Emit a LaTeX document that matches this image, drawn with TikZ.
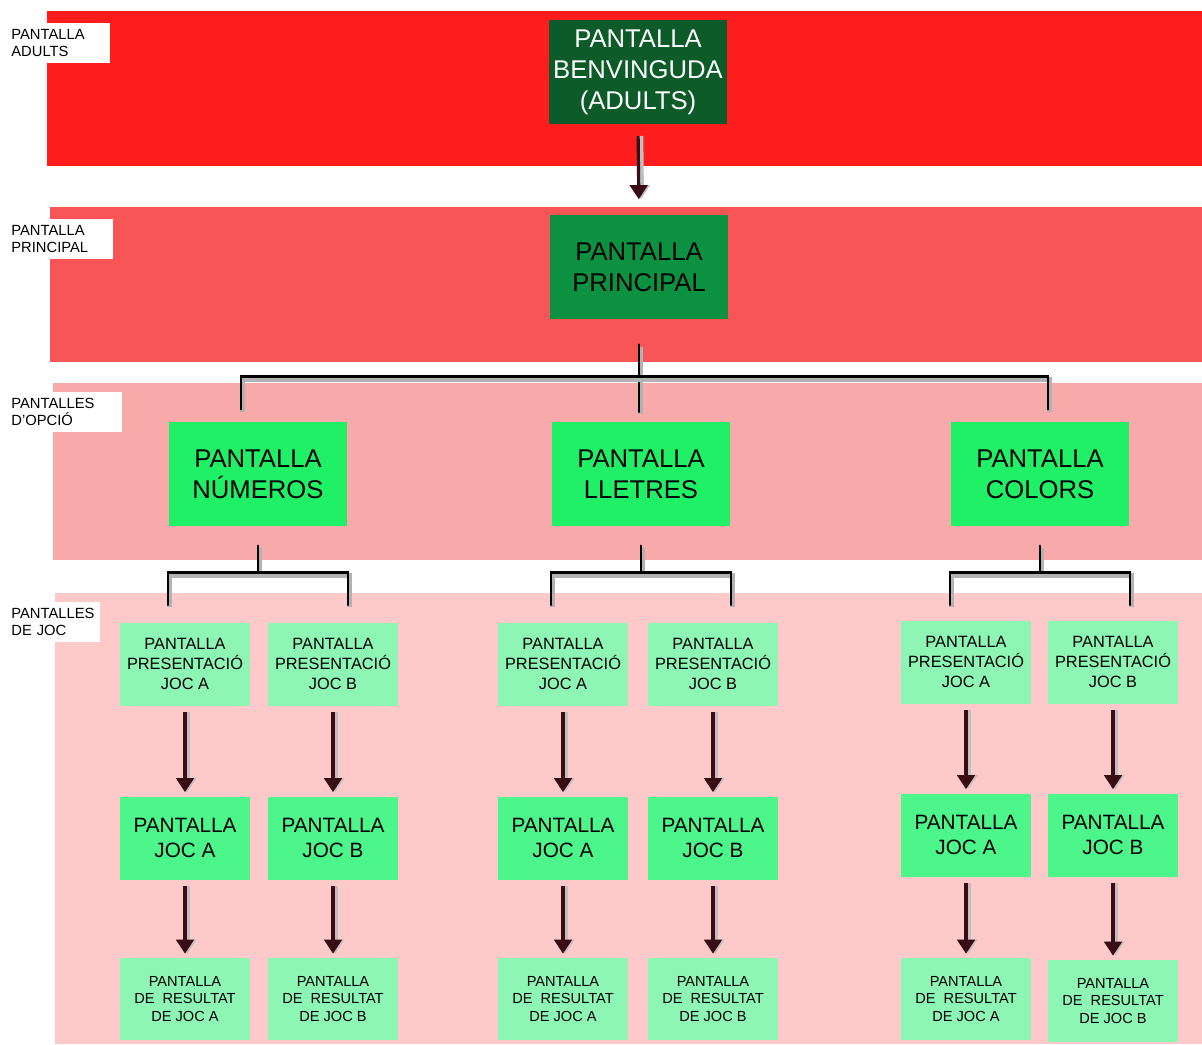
\documentclass[tikz,border=0pt]{standalone}
\usepackage{fontspec}
\setmainfont{Liberation Sans}
\usetikzlibrary{arrows.meta,calc}

\definecolor{bandA}{HTML}{FF1C1C}
\definecolor{bandB}{HTML}{F85656}
\definecolor{bandC}{HTML}{F8AAAA}
\definecolor{bandD}{HTML}{FDC9C9}
\definecolor{darkgr}{HTML}{0D5B28}
\definecolor{midgr}{HTML}{0B9140}
\definecolor{optgr}{HTML}{20F065}
\definecolor{palegr}{HTML}{8EF6B4}
\definecolor{jocgr}{HTML}{4CF68B}
\definecolor{arrowc}{HTML}{3A0C14}

\begin{document}
\begin{tikzpicture}[x=0.02cm, y=-0.02cm,
  box/.style={align=center, inner sep=2pt},
  big/.style={box, minimum width=3.56cm, minimum height=2.1cm, font=\fontsize{14.6}{17.6}\selectfont},
  wel/.style={big, fill=darkgr, text=white},
  main/.style={big, fill=midgr},
  opt/.style={big, fill=optgr},
  pres/.style={box, fill=palegr, minimum width=2.6cm, minimum height=1.66cm, font=\fontsize{9.3}{11.3}\selectfont},
  joc/.style={box, fill=jocgr, minimum width=2.6cm, minimum height=1.66cm, font=\fontsize{11.8}{14}\selectfont},
  res/.style={pres, minimum height=1.64cm, font=\fontsize{8.3}{9.9}\selectfont},
  tag/.style={fill=white, anchor=west, align=left, inner xsep=0.22cm, minimum height=0.76cm, font=\fontsize{8.4}{10}\selectfont},
  tree/.style={line width=1.6pt, black, line cap=round,
    preaction={draw=black!30, line width=3pt, transform canvas={xshift=0.8pt,yshift=-1.5pt}}},
  arr/.style={-{Triangle[width=10pt,length=8pt]}, line width=1.8pt, arrowc,
    shorten <=0.12cm, shorten >=0.08cm,
    preaction={draw=black!25, line width=3.5pt, transform canvas={xshift=1.2pt}}}]
\useasboundingbox (0,0) rectangle (1202,1044);

% bands
\fill[bandA] (47,11) rectangle (1202,166);
\fill[bandB] (50,207) rectangle (1202,362);
\fill[bandC] (53,383) rectangle (1202,560);
\fill[bandD] (55,593) rectangle (1202,1044);

\node[tag, text width=1.76cm] (tadult) at (0,43)  {PANTALLA\\ADULTS};
\node[tag, text width=1.82cm] (tprinc) at (0,239) {PANTALLA\\PRINCIPAL};
\node[tag, text width=2.0cm]  (topc)   at (0,412) {PANTALLES\\D'OPCIÓ};
\node[tag, text width=1.56cm] (tjoc)   at (0,622) {PANTALLES\\DE JOC};

% upper levels
\node[wel]  (benv)  at (638,72)  {PANTALLA\\BENVINGUDA\\(ADULTS)};
\node[main] (princ) at (639,267) {PANTALLA\\PRINCIPAL};
\draw[arr, shorten <=0.22cm, shorten >=0.3cm] (benv.south) -- (princ.north);

\node[opt] (num) at (258,474) {PANTALLA\\NÚMEROS};
\node[opt] (lle) at (641,474) {PANTALLA\\LLETRES};
\node[opt] (col) at (1040,474) {PANTALLA\\COLORS};

\coordinate (hub) at ($(princ.south)+(0,57)$);
\draw[tree] ($(princ.south)+(0,25)$) -- ($(princ.south)+(0,92)$);
\draw[tree] ($(num.north)+(-17,-12)$) |- (hub) -| ($(col.north)+(8,-12)$);

% game screens
\node[pres] (pnA) at (185,664) {PANTALLA\\PRESENTACIÓ\\JOC A};
\node[pres] (pnB) at (333,664) {PANTALLA\\PRESENTACIÓ\\JOC B};
\node[pres] (plA) at (563,664) {PANTALLA\\PRESENTACIÓ\\JOC A};
\node[pres] (plB) at (713,664) {PANTALLA\\PRESENTACIÓ\\JOC B};
\node[pres] (pcA) at (966,662) {PANTALLA\\PRESENTACIÓ\\JOC A};
\node[pres] (pcB) at (1113,662) {PANTALLA\\PRESENTACIÓ\\JOC B};

\node[joc] (jnA) at (185,838) {PANTALLA\\JOC A};
\node[joc] (jnB) at (333,838) {PANTALLA\\JOC B};
\node[joc] (jlA) at (563,838) {PANTALLA\\JOC A};
\node[joc] (jlB) at (713,838) {PANTALLA\\JOC B};
\node[joc] (jcA) at (966,835) {PANTALLA\\JOC A};
\node[joc] (jcB) at (1113,835) {PANTALLA\\JOC B};

\node[res] (rnA) at (185,999) {PANTALLA\\DE~ RESULTAT\\DE JOC A};
\node[res] (rnB) at (333,999) {PANTALLA\\DE~ RESULTAT\\DE JOC B};
\node[res] (rlA) at (563,999) {PANTALLA\\DE~ RESULTAT\\DE JOC A};
\node[res] (rlB) at (713,999) {PANTALLA\\DE~ RESULTAT\\DE JOC B};
\node[res] (rcA) at (966,999) {PANTALLA\\DE~ RESULTAT\\DE JOC A};
\node[res] (rcB) at (1113,1001) {PANTALLA\\DE~ RESULTAT\\DE JOC B};

\foreach \c in {nA,nB,lA,lB,cA,cB} {
  \draw[arr] (p\c.south) -- (j\c.north);
  \draw[arr] (j\c.south) -- (r\c.north);
}

% option -> game trees
\foreach \o/\h in {num/nhub,lle/lhub,col/chub} {
  \coordinate (\h) at ($(\o.south)+(0,46)$);
  \draw[tree] ($(\o.south)+(0,19)$) -- (\h);
  \draw[tree] ($(\h)+(-90,32)$) -- ($(\h)+(-90,0)$) -- ($(\h)+(90,0)$) -- ($(\h)+(90,32)$);
}
\end{tikzpicture}
\end{document}
